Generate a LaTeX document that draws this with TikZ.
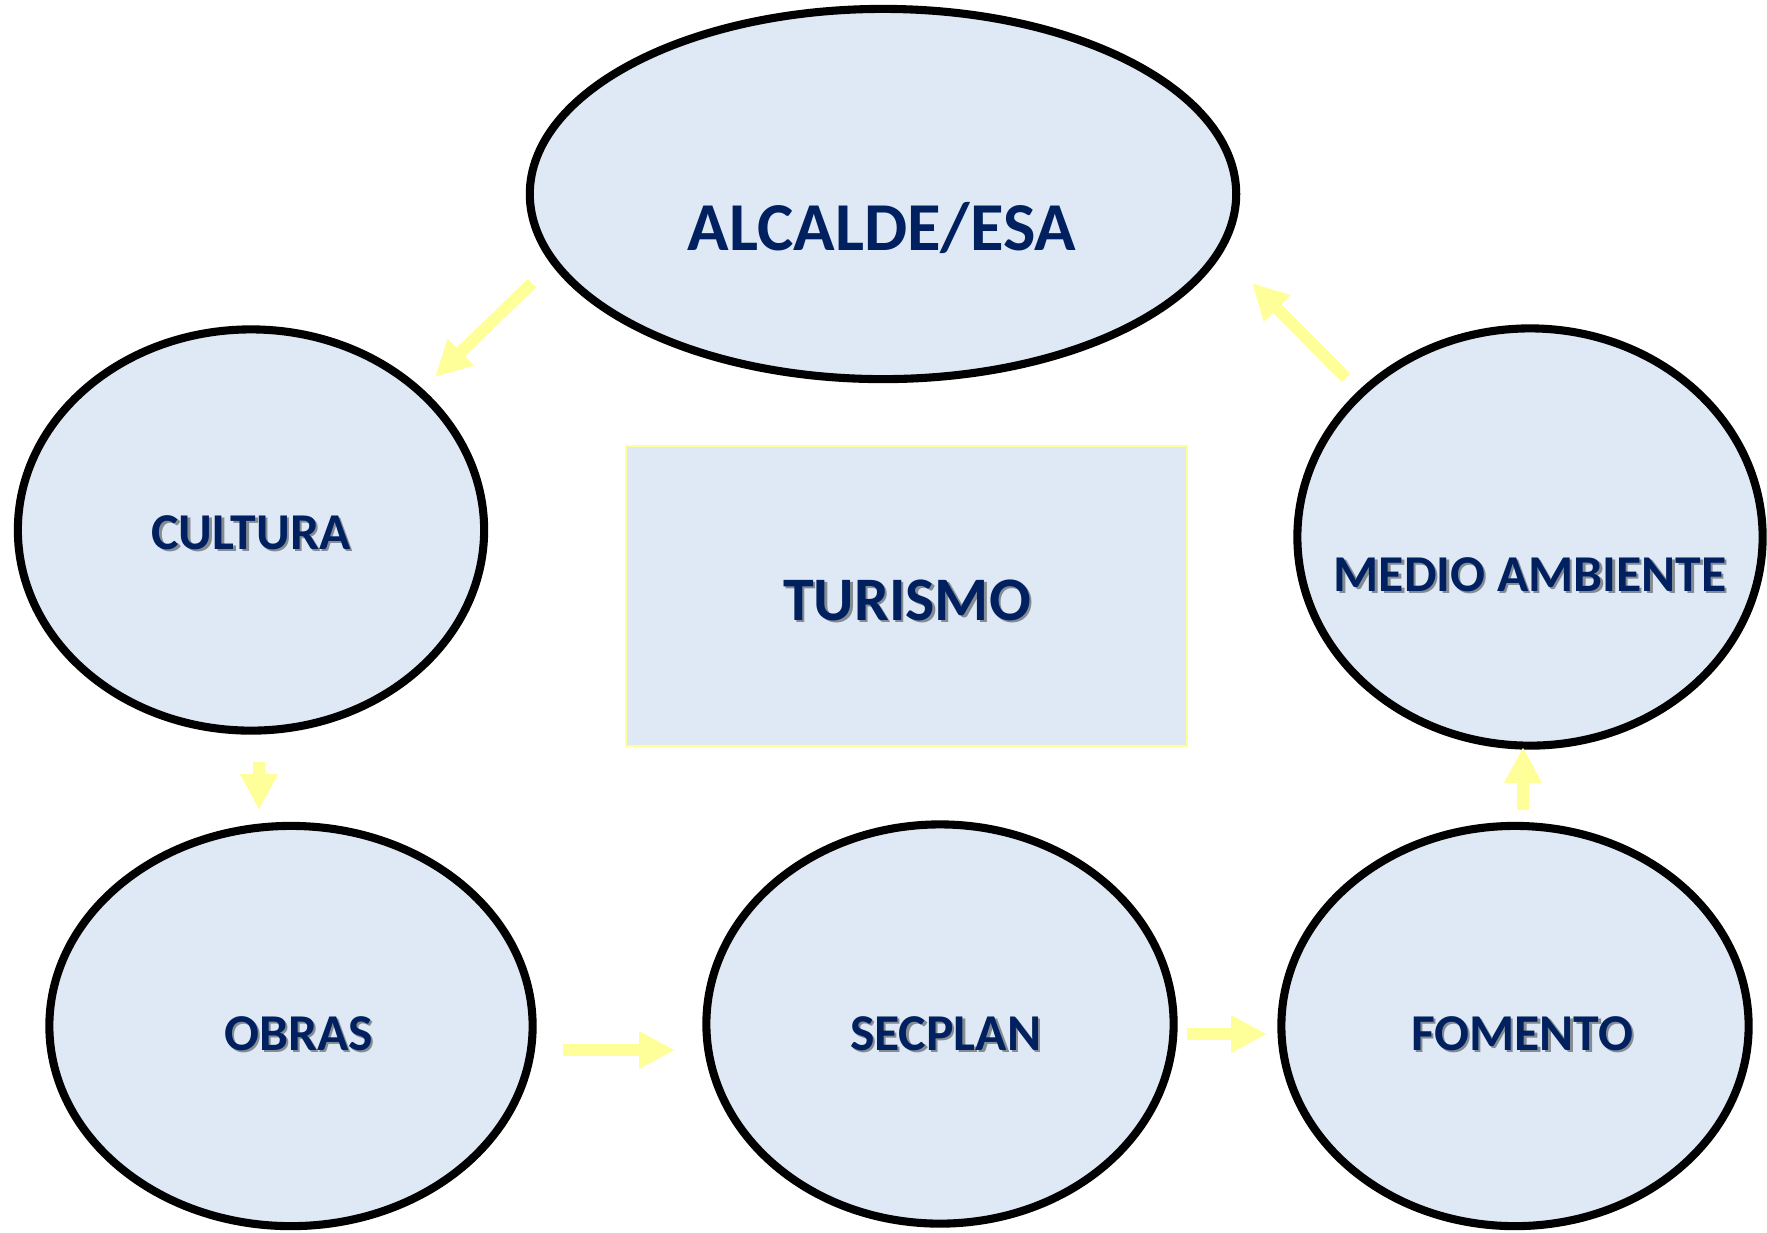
\documentclass[tikz,border=0pt]{standalone}
\usepackage{fontspec}
\setmainfont{Carlito}
\usetikzlibrary{arrows.meta,shapes.geometric}
\definecolor{ellfill}{HTML}{DEE9F5}
\definecolor{navy}{HTML}{002060}
\definecolor{arrowyel}{HTML}{FFFF99}
\tikzset{
  unit/.style={ellipse, draw=black, line width=2.3pt, fill=ellfill, inner sep=0pt},
  bigfont/.style={font=\bfseries\fontsize{19.5}{22}\selectfont},
  midfont/.style={font=\bfseries\fontsize{17.6}{20}\selectfont},
  smallfont/.style={font=\bfseries\fontsize{14.7}{17}\selectfont},
  lbl/.style={text=navy, inner sep=0pt, anchor=base},
  shd/.style={text=black, opacity=0.4, inner sep=0pt, anchor=base},
  blockarrow/.style={draw=arrowyel, line width=3.4pt, -{Triangle[width=10pt,length=10.2pt]}}
}
\begin{document}
\begin{tikzpicture}[x=0.01cm,y=-0.01cm]
\path[use as bounding box] (0,0) rectangle (1767,1232);
% ellipses
\node[unit, minimum width=7.06cm, minimum height=3.70cm] (alc) at (883,194) {};
\node[unit, minimum width=4.66cm, minimum height=4.01cm] (cul) at (251,530) {};
\node[unit, minimum width=4.65cm, minimum height=4.17cm] (med) at (1530,537) {};
\node[unit, minimum width=4.83cm, minimum height=4.00cm] (obr) at (291,1026) {};
\node[unit, minimum width=4.67cm, minimum height=3.99cm] (sec) at (940,1024) {};
\node[unit, minimum width=4.67cm, minimum height=4.00cm] (fom) at (1515,1026) {};
% central box
\node[draw=arrowyel, line width=0.6pt, fill=ellfill, minimum width=5.60cm, minimum height=3.00cm, inner sep=0pt] (tur) at (906.5,596) {};
% labels
\node[lbl, bigfont] (talc) at (882,250) {ALCALDE/ESA};
\node[shd, smallfont] at (253.5,551.5) {CULTURA};
\node[lbl, smallfont] (tcul) at (251,549) {CULTURA};
\node[shd, smallfont] at (1532.5,593.5) {MEDIO AMBIENTE};
\node[lbl, smallfont] (tmed) at (1530,591) {MEDIO AMBIENTE};
\node[shd, smallfont] at (301,1052.5) {OBRAS};
\node[lbl, smallfont] (tobr) at (298.5,1050) {OBRAS};
\node[shd, smallfont] at (948,1052.5) {SECPLAN};
\node[lbl, smallfont] (tsec) at (945.5,1050) {SECPLAN};
\node[shd, smallfont] at (1524.5,1052.5) {FOMENTO};
\node[lbl, smallfont] (tfom) at (1522,1050) {FOMENTO};
\node[shd, midfont] at (909.5,622.5) {TURISMO};
\node[lbl, midfont] (ttur) at (907,620) {TURISMO};
% arrow end points
\coordinate (a1s) at (532,283); \coordinate (a1e) at (435,377);
\coordinate (a2s) at (1346,378); \coordinate (a2e) at (1252,283);
\coordinate (a3s) at (259,762); \coordinate (a3e) at (259,810);
\coordinate (a4s) at (563,1050); \coordinate (a4e) at (675,1050);
\coordinate (a5s) at (1187,1034); \coordinate (a5e) at (1267,1034);
\coordinate (a6s) at (1523,810); \coordinate (a6e) at (1523,747);
\draw[blockarrow] (a1s) -- (a1e);
\draw[blockarrow] (a2s) -- (a2e);
\draw[blockarrow] (a3s) -- (a3e);
\draw[blockarrow] (a4s) -- (a4e);
\draw[blockarrow] (a5s) -- (a5e);
\draw[blockarrow] (a6s) -- (a6e);
\end{tikzpicture}
\end{document}
